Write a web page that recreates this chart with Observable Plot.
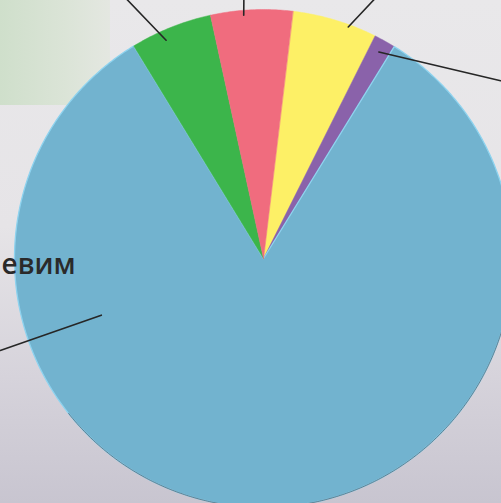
<!DOCTYPE html>
<html><head><meta charset="utf-8">
<script src="https://cdn.jsdelivr.net/npm/d3@7"></script>
<script src="https://cdn.jsdelivr.net/npm/@observablehq/plot@0.6"></script>
<style>
html,body{margin:0;padding:0;}
#wrap{position:relative;width:501px;height:503px;overflow:hidden;
  background:linear-gradient(to bottom,#e9e8ea 0%,#e6e4e7 45%,#d6d3db 75%,#c8c5d0 100%);}
#green{position:absolute;left:0;top:0;width:110px;height:105px;
  background:linear-gradient(to right,#cfdfcb 0%,#dbe4d7 60%,#e4e7e1 100%);}
#chart{position:absolute;left:0;top:0;}
</style></head><body>
<div id="wrap"><div id="green"></div><div id="chart"></div></div>
<script>
// ---- data (clockwise from the start angle) ----
const categories = ["Жёлтый", "Фиолетовый", "Голубой", "Зелёный", "Красный"];
const values = [5.5, 1.4, 82.4, 5.3, 5.3];
const colors = ["#fdf066", "#8a62aa", "#72b3cf", "#3cb54b", "#f06c7e"];
const labels = ["", "", "евим", "", ""];

// ---- layout ----
const W = 501, H = 503, CX = 263, CY = 258, R = 249;
const startDeg = 6.8;
// leader lines: [start angle offset from slice middle, start radius, end offset, end radius]
const leaders = [[3.4, 0.99, 6.4, 1.13], [0.05, 0.95, 24, 1.19], [70.6, 0.69, 70.6, 1.12], [-2.2, 0.96, -6.0, 1.18], [-1.9, 0.98, -1.6, 1.04]];

const total = d3.sum(values);
const rad = d => d * Math.PI / 180;
const pt = (deg, r) => ({x: r * Math.sin(rad(deg)), y: r * Math.cos(rad(deg))});

let acc = startDeg;
const slices = values.map((v, i) => {
  const a0 = acc, a1 = acc + v / total * 360;
  acc = a1;
  return {cat: categories[i], a0, a1, mid: (a0 + a1) / 2, color: colors[i]};
});

function slicePoly(s) {
  const pts = [{x: 0, y: 0}];
  const n = Math.max(2, Math.ceil((s.a1 - s.a0) / 0.5));
  for (let k = 0; k <= n; k++) pts.push(pt(s.a0 + (s.a1 - s.a0) * k / n, 1));
  return pts;
}

const sliceMarks = slices.map(s => Plot.line(slicePoly(s), {
  x: "x", y: "y", curve: "linear-closed", fill: s.color,
  stroke: s.cat === "Голубой" ? "#8ed3ef" : s.color,
  strokeWidth: s.cat === "Голубой" ? 1.3 : 0.5
}));

// darker rim along the lower edge
const rim = d3.range(95, 232, 0.5).map(a => pt(a, 1));

const leaderLines = slices.map((s, i) => {
  const [o0, r0, o1, r1] = leaders[i];
  return [pt(s.mid + o0, r0), pt(s.mid + o1, r1)];
});

const textData = slices.map((s, i) => ({text: labels[i], x: (1 - CX) / R, y: -0.026})).filter(d => d.text);

const chart = Plot.plot({
  width: W, height: H, margin: 0,
  x: {domain: [-CX / R, (W - CX) / R], axis: null},
  y: {domain: [-(H - CY) / R, CY / R], axis: null},
  style: {background: "transparent", fontFamily: "'Open Sans', sans-serif"},
  marks: [
    ...sliceMarks,
    Plot.line(rim, {x: "x", y: "y", stroke: "#3f4852", strokeWidth: 1, strokeOpacity: 0.6}),
    ...leaderLines.map(l => Plot.line(l, {x: "x", y: "y", stroke: "#262626", strokeWidth: 1.6})),
    Plot.text(textData, {x: "x", y: "y", text: "text", textAnchor: "start", fontSize: 28, fontWeight: 600, fill: "#2a2a2a"})
  ]
});
document.getElementById("chart").appendChild(chart);
</script>
</body></html>
